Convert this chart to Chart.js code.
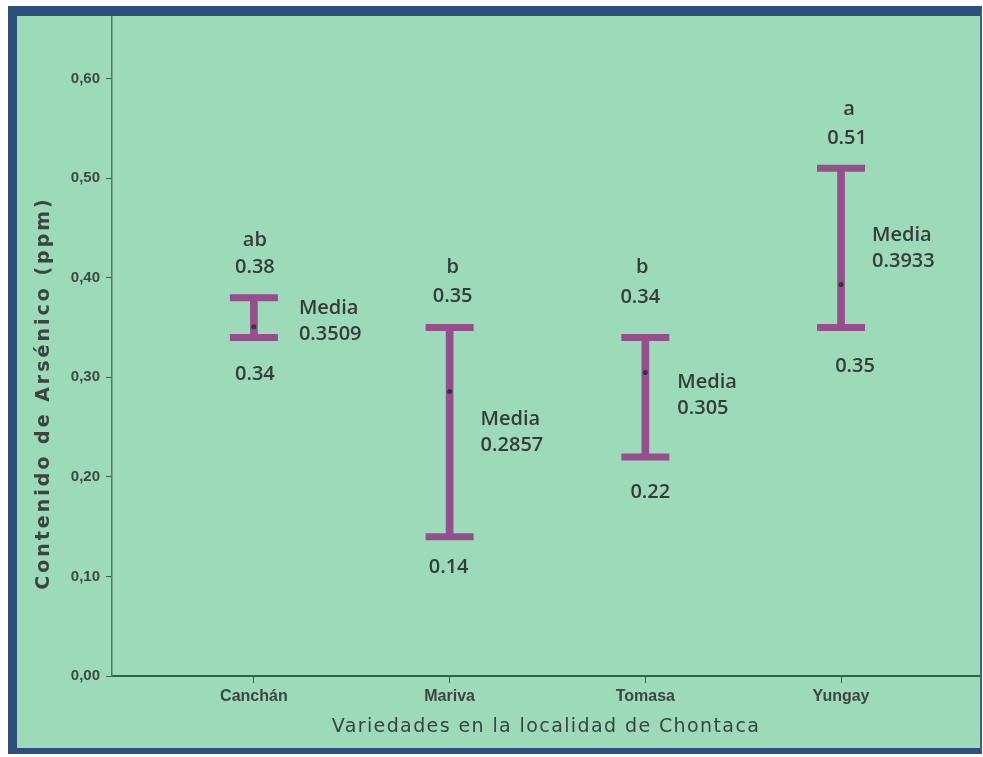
<!DOCTYPE html>
<html>
<head>
<meta charset="utf-8">
<title>Contenido de Arsénico - Chontaca</title>
<script src="https://cdn.jsdelivr.net/npm/chart.js@4.4.0/dist/chart.umd.min.js"></script>
<style>
  html, body { margin: 0; padding: 0; background: #ffffff; }
  #frame {
    position: absolute;
    left: 8px; top: 6px;
    width: 963px; height: 732px;
    background: #9cdab9;
    border-left: 9px solid #2e4f7c;
    border-top: 10px solid #2e4f7c;
    border-right: 2px solid #3c5f8c;
    border-bottom: 6px solid #2e4f7c;
  }
  #grafico { display: block; }
</style>
</head>
<body>
<div id="frame">
  <canvas id="grafico" width="963" height="732"></canvas>
</div>
<script>
// Variedades y resultados (ppm)
var variedades = ['Canchán', 'Mariva', 'Tomasa', 'Yungay'];
var limiteInferior = [0.34, 0.14, 0.22, 0.35];
var limiteSuperior = [0.38, 0.35, 0.34, 0.51];
var medias = [0.3509, 0.2857, 0.305, 0.3933];
var letras = ['ab', 'b', 'b', 'a'];
var ticksY = [0, 0.1, 0.2, 0.3, 0.4, 0.5, 0.6];

// posicion de cada variedad en el eje x
var posX = variedades.map(function(v, i) { return i + 1; });

// desplazamientos (px) de los textos de cada barra
var offsetsSup = [[1, -30], [3, -31], [-5, -40], [6, -30]];
var offsetsLetra = [[1, -57], [3, -60], [-3, -70], [8, -59]];
var offsetsInf = [[1, 37], [-1, 31], [5, 35], [14, 39]];
var offsetsMedia = [[45, -18], [31, 28], [32, 10], [31, -49]];

var morado = '#94508c';
var textoColor = '#363c39';

function fmtValor(v) {
    return String(v);
}

// textos: letras, limites, media y titulos de los ejes
var notasPlugin = {
    id: 'notas',
    afterDatasetsDraw: function(chart) {
        var ctx = chart.ctx;
        var xs = chart.scales.x, ys = chart.scales.y;
        ctx.save();
        ctx.fillStyle = textoColor;
        ctx.font = '600 20px "Open Sans"';
        ctx.textBaseline = 'middle';
        for (var i = 0; i < variedades.length; i++) {
            var px = xs.getPixelForValue(posX[i]);
            var pSup = ys.getPixelForValue(limiteSuperior[i]);
            var pInf = ys.getPixelForValue(limiteInferior[i]);
            var pMed = ys.getPixelForValue(medias[i]);
            ctx.textAlign = 'center';
            ctx.fillText(letras[i], px + offsetsLetra[i][0], pSup + offsetsLetra[i][1]);
            ctx.fillText(fmtValor(limiteSuperior[i]), px + offsetsSup[i][0], pSup + offsetsSup[i][1]);
            ctx.fillText(fmtValor(limiteInferior[i]), px + offsetsInf[i][0], pInf + offsetsInf[i][1]);
            ctx.textAlign = 'left';
            ctx.fillText('Media', px + offsetsMedia[i][0], pMed + offsetsMedia[i][1]);
            ctx.fillText(fmtValor(medias[i]), px + offsetsMedia[i][0], pMed + offsetsMedia[i][1] + 26);
        }

        // titulo eje y
        ctx.fillStyle = '#3a4540';
        ctx.font = 'bold 19px "DejaVu Sans"';
        ctx.letterSpacing = '3px';
        ctx.textAlign = 'center';
        ctx.translate(27, 377);
        ctx.rotate(-Math.PI / 2);
        ctx.fillText('Contenido de Arsénico (ppm)', 0, 0);
        ctx.restore();

        // titulo eje x
        ctx.save();
        ctx.fillStyle = '#3a4540';
        ctx.font = '500 19px "DejaVu Sans"';
        ctx.letterSpacing = '1.4px';
        ctx.textAlign = 'center';
        ctx.textBaseline = 'middle';
        ctx.fillText('Variedades en la localidad de Chontaca', (chart.chartArea.left + chart.chartArea.right) / 2, 711);
        ctx.restore();
    }
};

var ctx = document.getElementById('grafico').getContext('2d');

var grafico = new Chart(ctx, {
    type: 'bar',
    data: {
        datasets: [
            {
                // barra vertical entre limites
                type: 'bar',
                data: posX.map(function(x, i) { return { x: x, y: [limiteInferior[i], limiteSuperior[i]] }; }),
                backgroundColor: morado,
                borderWidth: 0,
                barThickness: 7,
                order: 2
            },
            {
                // topes horizontales
                type: 'scatter',
                data: posX.map(function(x, i) { return { x: x, y: limiteInferior[i] }; })
                    .concat(posX.map(function(x, i) { return { x: x, y: limiteSuperior[i] }; })),
                pointStyle: 'line',
                pointRadius: 24,
                borderColor: morado,
                borderWidth: 7,
                order: 1
            },
            {
                // media
                type: 'scatter',
                data: posX.map(function(x, i) { return { x: x, y: medias[i] }; }),
                pointStyle: 'circle',
                pointRadius: 2.5,
                backgroundColor: '#3a3240',
                borderWidth: 0,
                order: 0
            }
        ]
    },
    options: {
        responsive: false,
        animation: false,
        events: [],
        layout: { padding: 0, autoPadding: false },
        plugins: {
            legend: { display: false },
            tooltip: { enabled: false }
        },
        scales: {
            x: {
                type: 'linear',
                offset: false,
                min: 0.275,
                max: 4.71,
                afterFit: function(s) {
                    s.height = 72;
                    s.paddingLeft = 0;
                    s.paddingRight = 0;
                },
                grid: {
                    offset: false,
                    drawOnChartArea: false,
                    drawTicks: true,
                    tickLength: 7,
                    tickColor: '#3d5e4c',
                    tickWidth: 1
                },
                border: { display: true, color: '#2f6449', width: 2 },
                ticks: {
                    stepSize: 1,
                    includeBounds: false,
                    autoSkip: false,
                    maxRotation: 0,
                    padding: 4,
                    color: '#3d4641',
                    font: { family: '"Liberation Sans", Arial, sans-serif', size: 16, weight: 'bold' },
                    callback: function(value) {
                        if (value === Math.round(value)) {
                            return variedades[value - 1] || '';
                        }
                        return '';
                    }
                }
            },
            y: {
                min: 0,
                max: 0.663,
                afterFit: function(s) {
                    s.width = 95;
                    s.paddingTop = 0;
                    s.paddingBottom = 0;
                },
                afterBuildTicks: function(s) {
                    s.ticks = ticksY.map(function(v) { return { value: v }; });
                },
                grid: {
                    drawOnChartArea: false,
                    drawTicks: true,
                    tickLength: 6,
                    tickColor: '#3d5e4c',
                    tickWidth: 1
                },
                border: { display: true, color: '#4f7a63', width: 1.5 },
                ticks: {
                    padding: 6,
                    color: '#3d4a44',
                    font: { family: '"Liberation Sans", Arial, sans-serif', size: 15, weight: 'bold' },
                    callback: function(value) {
                        return value.toFixed(2).replace('.', ',');
                    }
                }
            }
        }
    },
    plugins: [notasPlugin]
});
</script>
</body>
</html>
